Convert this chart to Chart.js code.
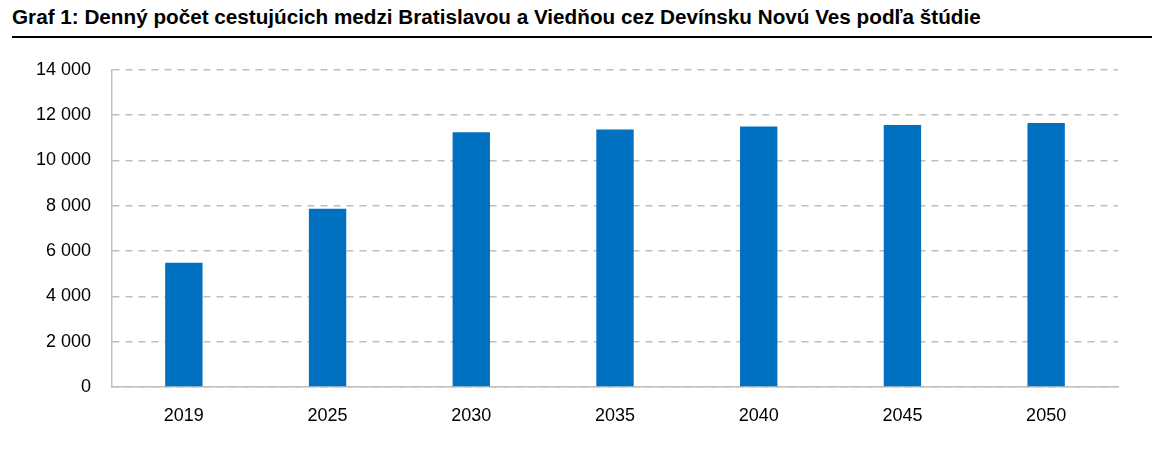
<!DOCTYPE html>
<html>
<head>
<meta charset="utf-8">
<script src="https://cdn.jsdelivr.net/npm/chart.js@4/dist/chart.umd.min.js"></script>
<style>
  html, body { margin: 0; padding: 0; background: #fff; width: 1159px; height: 450px; overflow: hidden; }
  #title { position: absolute; left: 12px; top: 5px; font-family: "Liberation Sans", Arial, sans-serif; font-weight: bold; font-size: 20.7px; color: #000; white-space: nowrap; z-index: 2; }
  #rule { position: absolute; left: 12px; top: 36px; width: 1140px; height: 2px; background: #000; z-index: 2; }
  #wrap { position: absolute; left: 0; top: 38px; width: 1159px; height: 412px; }
</style>
</head>
<body>
<div id="wrap"><canvas id="c"></canvas></div>
<div id="title">Graf 1: Denný počet cestujúcich medzi Bratislavou a Viedňou cez Devínsku Novú Ves podľa štúdie</div>
<div id="rule"></div>
<script>
const years = ["2019", "2025", "2030", "2035", "2040", "2045", "2050"];
const passengers = [5480, 7870, 11240, 11370, 11500, 11565, 11650];
const yTickValues = [0, 2000, 4000, 6000, 8000, 10000, 12000, 14000];
const yTickLabels = ["0", "2 000", "4 000", "6 000", "8 000", "10 000", "12 000", "14 000"];

const font = { family: '"Liberation Sans", Arial, sans-serif', size: 18 };

new Chart(document.getElementById('c'), {
  type: 'bar',
  data: {
    labels: years,
    datasets: [{
      data: passengers,
      backgroundColor: '#0070C0',
      borderWidth: 0,
      barPercentage: 0.26,
      categoryPercentage: 1.0
    }]
  },
  options: {
    responsive: true,
    maintainAspectRatio: false,
    animation: false,
    devicePixelRatio: 1,
    layout: { padding: { left: 0, right: 41, top: 17, bottom: 0 } },
    plugins: { legend: { display: false }, tooltip: { enabled: false }, title: { display: false } },
    scales: {
      x: {
        grid: { display: false, drawTicks: false },
        border: { display: true, color: '#BFBFBF', width: 1.5 },
        ticks: { color: '#000', font: font, padding: 18, maxRotation: 0 },
        afterFit: (s) => { s.height = 63; }
      },
      y: {
        min: 0, max: 14000,
        afterBuildTicks: (s) => { s.ticks = yTickValues.map(v => ({ value: v })); },
        grid: { color: '#BFBFBF', lineWidth: 1.5, drawTicks: false },
        border: { display: true, color: '#BFBFBF', width: 1.5, dash: [7, 6] },
        ticks: {
          color: '#000', font: font, padding: 21,
          callback: (v) => { const i = yTickValues.indexOf(v); return i >= 0 ? yTickLabels[i] : ''; }
        },
        afterFit: (s) => { s.width = 112; }
      }
    }
  }
});
</script>
</body>
</html>
